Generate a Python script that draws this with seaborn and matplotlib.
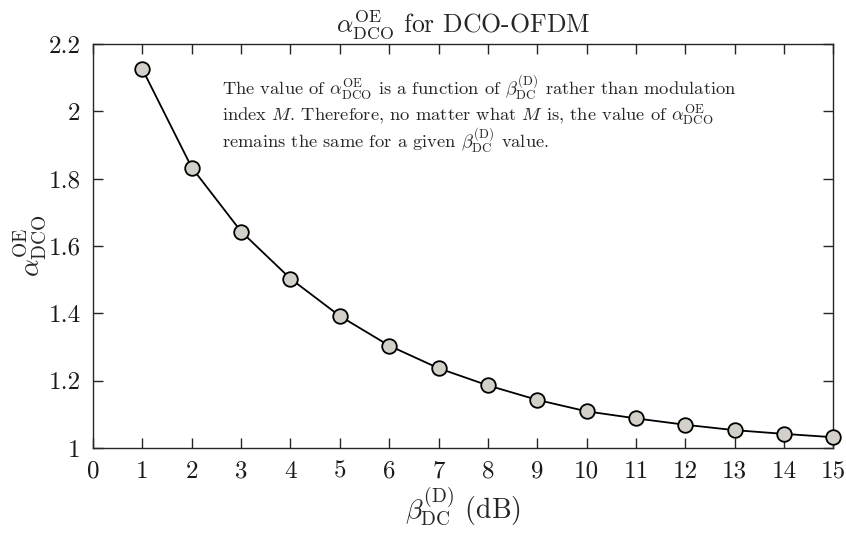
import numpy as np
import pandas as pd
import matplotlib
matplotlib.use("Agg")
import matplotlib.pyplot as plt
import seaborn as sns

# DC bias in dB and the resulting optical-to-electrical factor
beta_dc_db = [1, 2, 3, 4, 5, 6, 7, 8, 9, 10, 11, 12, 13, 14, 15]
alpha_oe = [2.125, 1.833, 1.643, 1.503, 1.392, 1.304, 1.237, 1.186,
            1.143, 1.109, 1.088, 1.069, 1.053, 1.042, 1.032]
x_ticks = list(range(0, 16))
y_ticks = [1, 1.2, 1.4, 1.6, 1.8, 2, 2.2]
y_tick_labels = ["1", "1.2", "1.4", "1.6", "1.8", "2", "2.2"]

sns.set_style("ticks")
plt.rcParams["font.family"] = ["cmr10", "DejaVu Serif"]
plt.rcParams["mathtext.fontset"] = "cm"
plt.rcParams["axes.formatter.use_mathtext"] = True

df = pd.DataFrame({"beta": beta_dc_db, "alpha": alpha_oe})

fig = plt.figure(figsize=(8.46, 5.35), dpi=100)
ax = fig.add_axes([0.110, 0.1626, 0.875, 0.7552])

sns.lineplot(data=df, x="beta", y="alpha", ax=ax, color="black",
             linewidth=1.3, marker="o", markersize=10.5,
             markerfacecolor="#d3d0c9", markeredgecolor="black",
             markeredgewidth=1.3, clip_on=False, zorder=3)

ax.set_xlim(0, 15)
ax.set_ylim(1, 2.2)
ax.set_xticks(x_ticks)
ax.set_xticklabels([str(t) for t in x_ticks])
ax.set_yticks(y_ticks)
ax.set_yticklabels(y_tick_labels)

axis_gray = "#262626"
for side in ["top", "right", "bottom", "left"]:
    ax.spines[side].set_visible(True)
    ax.spines[side].set_color(axis_gray)
    ax.spines[side].set_linewidth(1.0)
ax.tick_params(direction="in", length=7, width=1.0, color=axis_gray,
               top=True, right=True, labelsize=18, labelcolor="#1a1a1a")
ax.tick_params(axis="x", pad=9)
ax.tick_params(axis="y", pad=9)

ax.set_xlabel(r"$\beta^{\mathrm{(D)}}_{\mathrm{DC}}$ (dB)", fontsize=20, labelpad=2)
ax.set_ylabel(r"$\alpha^{\mathrm{OE}}_{\mathrm{DCO}}$", fontsize=20, labelpad=0)
ax.set_title(r"$\alpha^{\mathrm{OE}}_{\mathrm{DCO}}$ for DCO-OFDM", fontsize=18.5, pad=8)

note = (r"The value of $\alpha^{\mathrm{OE}}_{\mathrm{DCO}}$ is a function of "
        r"$\beta^{\mathrm{(D)}}_{\mathrm{DC}}$ rather than modulation" "\n"
        r"index $M$. Therefore, no matter what $M$ is, the value of "
        r"$\alpha^{\mathrm{OE}}_{\mathrm{DCO}}$" "\n"
        r"remains the same for a given $\beta^{\mathrm{(D)}}_{\mathrm{DC}}$ value.")
ax.text(0.174, 0.925, note, transform=ax.transAxes, fontsize=13.3,
        va="top", ha="left", linespacing=0.95)

fig.savefig("out.png", dpi=100)
